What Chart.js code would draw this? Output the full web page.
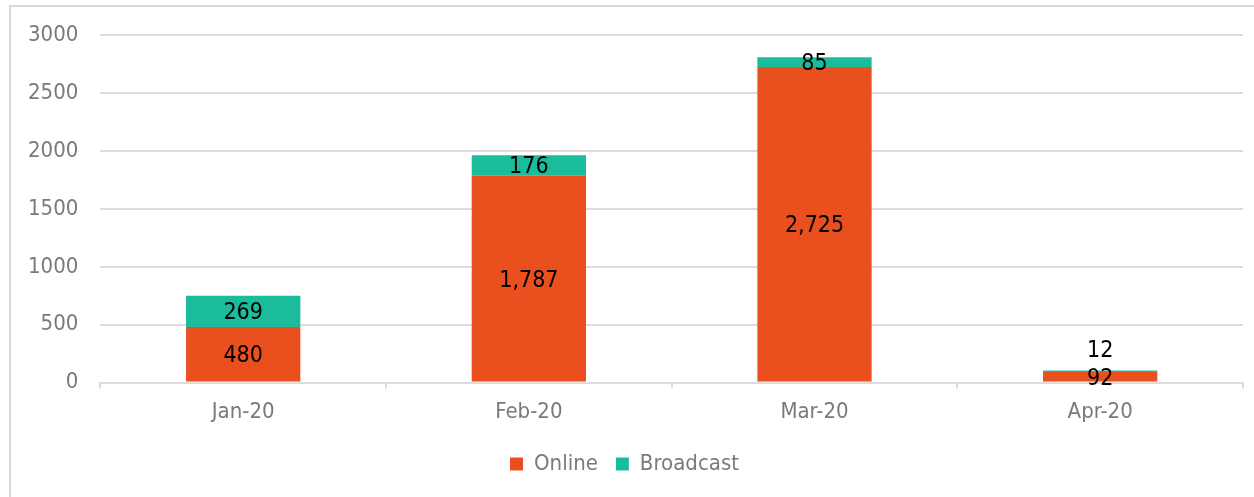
<!DOCTYPE html>
<html>
<head>
<meta charset="utf-8">
<script src="https://cdn.jsdelivr.net/npm/chart.js@4.4.1/dist/chart.umd.min.js"></script>
<style>
  html, body { margin: 0; padding: 0; background: #fff; overflow: hidden; }
  #frame { position: absolute; left: 9px; top: 5px; width: 1400px; height: 700px; border: 2px solid #d9d9d9; }
  #wrap { position: absolute; left: 0; top: 0; width: 1254px; height: 497px; }
</style>
</head>
<body>
<div id="frame"></div>
<div id="wrap"><canvas id="myChart"></canvas></div>
<script>
const months = ["Jan-20", "Feb-20", "Mar-20", "Apr-20"];
const online = [480, 1787, 2725, 92];
const broadcast = [269, 176, 85, 12];
const yTicks = [0, 500, 1000, 1500, 2000, 2500, 3000];

const fontFamily = "'DejaVu Sans Condensed', 'DejaVu Sans', sans-serif";

// draws the value inside each stacked segment (above it if the segment is too thin)
const valueLabels = {
  id: "valueLabels",
  afterDatasetsDraw(chart) {
    const ctx = chart.ctx;
    ctx.save();
    ctx.font = "23px " + fontFamily;
    ctx.fillStyle = "#000";
    ctx.textAlign = "center";
    ctx.textBaseline = "middle";
    chart.data.datasets.forEach((ds, i) => {
      const meta = chart.getDatasetMeta(i);
      meta.data.forEach((bar, j) => {
        const h = bar.base - bar.y;
        let y = (bar.y + bar.base) / 2;
        if (h < 4) y = bar.y - 22;
        ctx.fillText(ds.data[j].toLocaleString("en-US"), bar.x, y + 2);
      });
    });
    ctx.restore();
  }
};

function generateChart() {
  const ctx = document.getElementById("myChart").getContext("2d");
  new Chart(ctx, {
    type: "bar",
    data: {
      labels: months,
      datasets: [
        { label: "Online", data: online, backgroundColor: "#E9501D" },
        { label: "Broadcast", data: broadcast, backgroundColor: "#1ABC9C" }
      ]
    },
    options: {
      responsive: true,
      maintainAspectRatio: false,
      animation: false,
      categoryPercentage: 0.8,
      barPercentage: 0.5,
      layout: { padding: { left: 6, right: 11, top: 28, bottom: 12 } },
      plugins: {
        tooltip: { enabled: false },
        legend: {
          position: "bottom",
          labels: {
            boxWidth: 13,
            boxHeight: 13,
            padding: 18,
            color: "#7a7a7a",
            font: { family: fontFamily, size: 22 }
          }
        }
      },
      scales: {
        x: {
          stacked: true,
          grid: { drawOnChartArea: false, drawTicks: true, tickLength: 6, color: "#dcdcdc", lineWidth: 2 },
          border: { color: "#dcdcdc", width: 2 },
          ticks: { color: "#7a7a7a", padding: 10, font: { family: fontFamily, size: 22 } }
        },
        y: {
          stacked: true,
          min: 0,
          max: 3000,
          afterBuildTicks: (axis) => { axis.ticks = yTicks.map((v) => ({ value: v })); },
          grid: { color: "#dcdcdc", lineWidth: 2, drawTicks: false },
          border: { display: false },
          ticks: {
            color: "#7a7a7a",
            padding: 22,
            font: { family: fontFamily, size: 22 },
            callback: (v) => String(v)
          }
        }
      }
    },
    plugins: [valueLabels]
  });
}
generateChart();
</script>
</body>
</html>
